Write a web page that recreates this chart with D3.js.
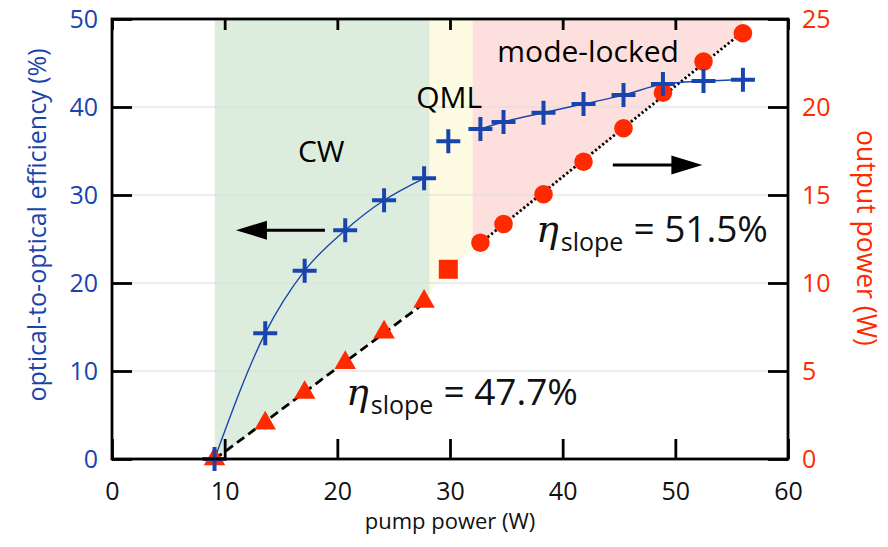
<!DOCTYPE html>
<html>
<head>
<meta charset="utf-8">
<script src="https://cdn.jsdelivr.net/npm/d3@7"></script>
<style>
  html, body { margin: 0; padding: 0; background: #fff; }
  svg { display: block; font-family: "Open Sans", sans-serif; }
</style>
</head>
<body>
<svg id="chart" width="888" height="547"></svg>
<script>
// Pump power (W) for each measurement
const pumpPower = [9.1, 13.6, 17.1, 20.7, 24.15, 27.7, 29.85, 32.7, 34.75, 38.3, 41.85, 45.4, 48.9, 52.5, 56.0];
// Optical-to-optical efficiency (%)
const efficiency = [0, 14.3, 21.4, 26.0, 29.4, 31.9, 36.1, 37.5, 38.3, 39.35, 40.35, 41.35, 42.6, 42.95, 43.1];
// Output power (W): CW regime (triangles), QML (square), mode-locked (circles)
const pumpCW = [9.1, 13.6, 17.1, 20.7, 24.15, 27.7];
const outCW = [0, 2.03, 3.77, 5.47, 7.2, 8.95];
const pumpQML = [29.85];
const outQML = [10.78];
const pumpML = [32.7, 34.75, 38.3, 41.85, 45.4, 48.9, 52.5, 56.0];
const outML = [12.29, 13.35, 15.04, 16.89, 18.79, 20.81, 22.58, 24.19];
// Slope efficiencies of the linear fits
const slopeCW = 0.477;
const slopeML = 0.515;
// Operating regimes along the pump axis
const regimes = [
  { name: "CW", from: 9.1, to: 28.2, fill: "#ddeddd" },
  { name: "QML", from: 28.2, to: 32.0, fill: "#fdfbe1" },
  { name: "mode-locked", from: 32.0, to: 56.0, fill: "#fde0dd" }
];
const xTicks = [0, 10, 20, 30, 40, 50, 60];
const yLeftTicks = [0, 10, 20, 30, 40, 50];
const yRightTicks = [0, 5, 10, 15, 20, 25];

const BLUE = "#1a44ad";
const RED = "#ff2a00";

const svg = d3.select("#chart");
const x = d3.scaleLinear().domain([0, 60]).range([112, 788]);
const yL = d3.scaleLinear().domain([0, 50]).range([459, 19]);
const yR = d3.scaleLinear().domain([0, 25]).range([459, 19]);

// Region shading sits above the output-power curve
const outAll = pumpCW.map((p, i) => [p, outCW[i]])
  .concat(pumpQML.map((p, i) => [p, outQML[i]]))
  .concat(pumpML.map((p, i) => [p, outML[i]]));
const clipPts = outAll.map(d => [x(d[0]), yR(d[1])]);
clipPts.push([x(outAll[outAll.length - 1][0]), yR(25)]);
clipPts.push([x(outAll[0][0]), yR(25)]);
const defs = svg.append("defs");
defs.append("clipPath").attr("id", "above")
  .append("path").attr("d", d3.line()(clipPts) + "Z");

svg.append("g").attr("clip-path", "url(#above)")
  .selectAll("rect").data(regimes).join("rect")
  .attr("x", d => x(d.from)).attr("y", yR(25))
  .attr("width", d => x(d.to) - x(d.from))
  .attr("height", yR(0) - yR(25))
  .attr("fill", d => d.fill);

// Horizontal grid
svg.append("g").selectAll("line").data(yLeftTicks.slice(1, -1)).join("line")
  .attr("x1", x(0)).attr("x2", x(60))
  .attr("y1", d => yL(d)).attr("y2", d => yL(d))
  .attr("stroke", "#dcdcdc").attr("stroke-width", 1);

// Linear fits through the centroid of each group with the quoted slope
function fitLine(px, py, slope) {
  const mx = d3.mean(px), my = d3.mean(py);
  const f = v => my + slope * (v - mx);
  return [[px[0], f(px[0])], [px[px.length - 1], f(px[px.length - 1])]];
}
const lineR = d3.line().x(d => x(d[0])).y(d => yR(d[1]));
svg.append("path").attr("d", lineR(fitLine(pumpCW, outCW, slopeCW)))
  .attr("fill", "none").attr("stroke", "#000").attr("stroke-width", 2.8)
  .attr("stroke-dasharray", "9,5");
svg.append("path").attr("d", lineR(fitLine(pumpML, outML, slopeML)))
  .attr("fill", "none").attr("stroke", "#000").attr("stroke-width", 2.8)
  .attr("stroke-dasharray", "2.2,2.4");

// Efficiency curves (CW and mode-locked segments)
const effPts = pumpPower.map((p, i) => [p, efficiency[i]]);
const lineL = d3.line().x(d => x(d[0])).y(d => yL(d[1])).curve(d3.curveMonotoneX);
[effPts.slice(0, 6), effPts.slice(7)].forEach(seg => {
  svg.append("path").attr("d", lineL(seg))
    .attr("fill", "none").attr("stroke", BLUE).attr("stroke-width", 1.4);
});

// Output power markers
svg.append("g").selectAll("path").data(pumpCW.map((p, i) => [p, outCW[i]])).join("path")
  .attr("d", d3.symbol(d3.symbolTriangle, 200))
  .attr("transform", d => `translate(${x(d[0])},${yR(d[1])})`)
  .attr("fill", RED);
svg.append("g").selectAll("rect").data(pumpQML.map((p, i) => [p, outQML[i]])).join("rect")
  .attr("x", d => x(d[0]) - 9.5).attr("y", d => yR(d[1]) - 9.5)
  .attr("width", 19).attr("height", 19).attr("fill", RED);
svg.append("g").selectAll("circle").data(pumpML.map((p, i) => [p, outML[i]])).join("circle")
  .attr("cx", d => x(d[0])).attr("cy", d => yR(d[1])).attr("r", 9.3)
  .attr("fill", RED);

// Efficiency markers (crosses)
svg.append("g").selectAll("path").data(effPts).join("path")
  .attr("d", "M-12,0H12M0,-12V12")
  .attr("transform", d => `translate(${x(d[0])},${yL(d[1])})`)
  .attr("stroke", BLUE).attr("stroke-width", 4).attr("fill", "none");

// Arrows pointing to the relevant axis
function arrow(x1, x2, yPix) {
  const dir = Math.sign(x2 - x1);
  const head = 31, half = 9.5;
  svg.append("line").attr("x1", x1).attr("x2", x2 - dir * head * 0.9)
    .attr("y1", yPix).attr("y2", yPix).attr("stroke", "#000").attr("stroke-width", 3);
  svg.append("path")
    .attr("d", `M${x2},${yPix}L${x2 - dir * head},${yPix - half}L${x2 - dir * head},${yPix + half}Z`)
    .attr("fill", "#000");
}
arrow(x(18.9), x(11.0), yL(26.0));
arrow(x(44.45), x(52.4), yR(16.7));

// Regime labels
const labelFont = 30;
svg.append("text").attr("x", x(16.5)).attr("y", 162).attr("font-size", labelFont).text("CW");
svg.append("text").attr("x", x(27.0)).attr("y", 108).attr("font-size", labelFont).text("QML");
svg.append("text").attr("x", x(34.2)).attr("y", 62).attr("font-size", labelFont).text("mode-locked");

// Slope efficiency labels
function slopeLabel(xp, yp, value) {
  const t = svg.append("text").attr("x", xp).attr("y", yp).attr("fill", "#111");
  t.append("tspan").attr("font-family", "'DejaVu Serif', serif").attr("font-style", "italic")
    .attr("font-size", 38).text("η");
  t.append("tspan").attr("font-size", 25).attr("dy", 9).attr("dx", 2).text("slope");
  t.append("tspan").attr("font-size", 37).attr("dy", -9).attr("dx", 10).text("= " + value);
}
slopeLabel(536, 242, "51.5%");
slopeLabel(346, 405, "47.7%");

// Axes
const tickFont = 25;
const gx = svg.append("g").attr("transform", `translate(0,${yL(0)})`)
  .call(d3.axisBottom(x).tickValues(xTicks).tickSize(-20).tickPadding(23));
const gxTop = svg.append("g").attr("transform", `translate(0,${yL(50)})`)
  .call(d3.axisTop(x).tickValues(xTicks).tickSize(-11).tickFormat(""));
const gyl = svg.append("g").attr("transform", `translate(${x(0)},0)`)
  .call(d3.axisLeft(yL).tickValues(yLeftTicks).tickSize(-20).tickPadding(14));
const gyr = svg.append("g").attr("transform", `translate(${x(60)},0)`)
  .call(d3.axisRight(yR).tickValues(yRightTicks).tickSize(-20).tickPadding(14));
[gx, gxTop, gyl, gyr].forEach(g => {
  g.select(".domain").remove();
  g.selectAll(".tick line").attr("stroke", "#000").attr("stroke-width", 2.8);
  g.selectAll(".tick text").attr("font-size", tickFont).attr("font-family", "'Open Sans', sans-serif");
});
gx.selectAll(".tick text").attr("fill", "#111");
gyl.selectAll(".tick text").attr("fill", BLUE);
gyr.selectAll(".tick text").attr("fill", RED);

// Plot frame
svg.append("rect").attr("x", x(0)).attr("y", yL(50))
  .attr("width", x(60) - x(0)).attr("height", yL(0) - yL(50))
  .attr("fill", "none").attr("stroke", "#000").attr("stroke-width", 2.8);

// Axis titles
svg.append("text").attr("x", 450).attr("y", 529).attr("text-anchor", "middle")
  .attr("font-size", 22).attr("fill", "#111").text("pump power (W)");
svg.append("text").attr("transform", "translate(36,225) rotate(-90)")
  .attr("text-anchor", "middle").attr("dominant-baseline", "central")
  .attr("font-size", 25).attr("fill", BLUE).text("optical-to-optical efficiency (%)");
svg.append("text").attr("transform", "translate(867,238) rotate(90)")
  .attr("text-anchor", "middle").attr("dominant-baseline", "central")
  .attr("font-size", 26.5).attr("fill", RED).text("output power (W)");
</script>
</body>
</html>
